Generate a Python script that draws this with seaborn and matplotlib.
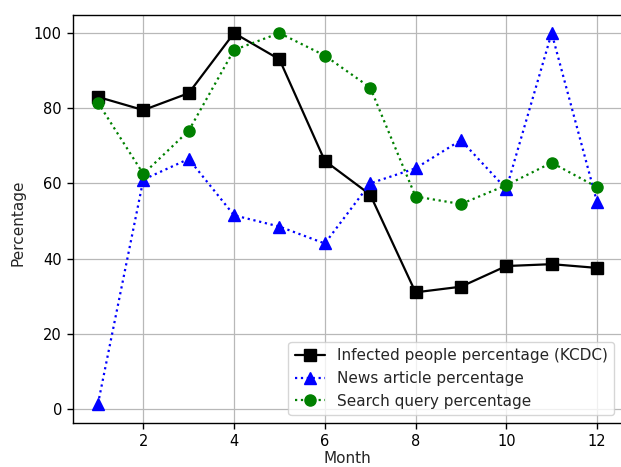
import matplotlib
matplotlib.use("Agg")
import matplotlib.pyplot as plt
import seaborn as sns
import pandas as pd

months = [1, 2, 3, 4, 5, 6, 7, 8, 9, 10, 11, 12]
infected = [83, 79.5, 84, 100, 93, 66, 57, 31, 32.5, 38, 38.5, 37.5]
news = [1.3, 61, 66.5, 51.5, 48.5, 44, 60, 64, 71.5, 58.5, 100, 55]
search = [81.5, 62.5, 74, 95.5, 100, 94, 85.5, 56.5, 54.5, 59.5, 65.5, 59]

labels = ["Infected people percentage (KCDC)",
          "News article percentage",
          "Search query percentage"]

sns.set_style("ticks")
plt.rcParams["font.family"] = ["DejaVu Sans"]
plt.rcParams["font.size"] = 10.5

dpi = 100
fig = plt.figure(figsize=(621 / dpi, 467 / dpi), dpi=dpi)
ax = fig.add_axes([73 / 621, 44.5 / 467, 549 / 621, 408 / 467])

df = pd.DataFrame({"Month": months, "infected": infected,
                   "news": news, "search": search})

style = dict(markersize=8, markeredgewidth=1, linewidth=1.6)
sns.lineplot(data=df, x="Month", y="infected", ax=ax, color="k",
             linestyle="-", marker="s", markeredgecolor="k",
             label=labels[0], **style)
sns.lineplot(data=df, x="Month", y="news", ax=ax, color="b",
             linestyle=":", marker="^", markeredgecolor="b",
             label=labels[1], **style)
sns.lineplot(data=df, x="Month", y="search", ax=ax, color="g",
             linestyle=":", marker="o", markeredgecolor="g",
             label=labels[2], **style)

ax.set_xlabel("Month", fontsize=11)
ax.set_ylabel("Percentage", fontsize=11)
ax.xaxis.set_label_coords(0.5, -0.071)
ax.yaxis.set_label_coords(-0.086, 0.49)
ax.set_xticks([2, 4, 6, 8, 10, 12])
ax.set_yticks([0, 20, 40, 60, 80, 100])
ax.grid(True, color="#b8b8b8", linewidth=0.9)
for s in ax.spines.values():
    s.set_color("k")
    s.set_linewidth(1.0)
ax.tick_params(direction="out", length=4.5, width=1.0, colors="k",
               labelsize=10.5)
ax.legend(loc="lower right", framealpha=0.8, edgecolor="#cccccc",
          fontsize=11)

fig.savefig("out.png", dpi=dpi)
